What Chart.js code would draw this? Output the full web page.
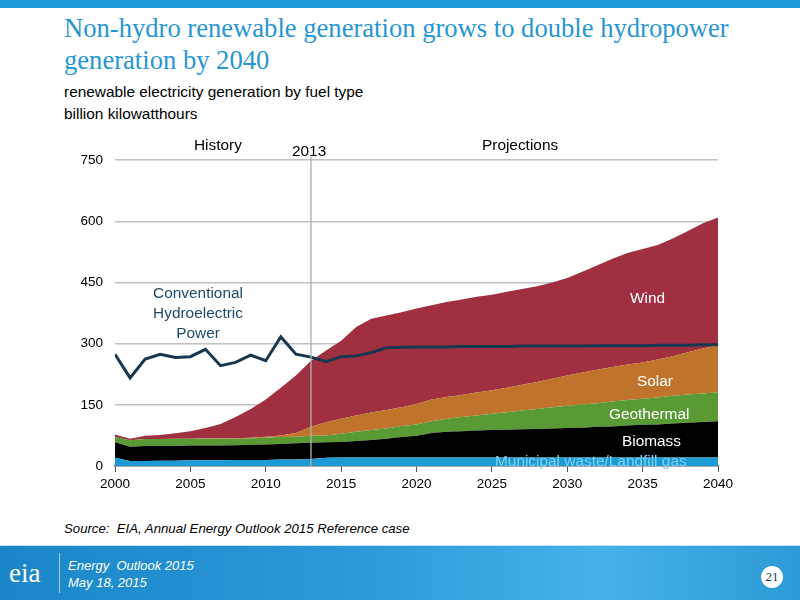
<!DOCTYPE html>
<html>
<head>
<meta charset="utf-8">
<script src="https://cdn.jsdelivr.net/npm/chart.js@4"></script>
<style>
  body { margin: 0; width: 800px; height: 600px; position: relative; overflow: hidden; background: #fff; font-family: "Liberation Sans", Arial, sans-serif; }
  .abs { position: absolute; white-space: nowrap; }
  #topbar { position: absolute; left: 0; top: 0; width: 800px; height: 8px; background: #1b9ad6; }
  #title { left: 64px; top: 12px; font-family: "Liberation Serif", "Times New Roman", serif; font-size: 26.6px; line-height: 32px; color: #2596d2; }
  .sub { left: 64px; font-size: 15.4px; color: #000; }
  #chart-box { position: absolute; left: 60px; top: 140px; width: 683px; height: 366px; }
  .note { font-size: 15.4px; color: #000; }
  .lbl { font-size: 15.4px; color: #fff; }
  #hydro { left: 148px; top: 283px; width: 100px; text-align: center; font-size: 15.4px; line-height: 20px; color: #1d4a6b; }
  #source { left: 64px; top: 521px; font-size: 13.2px; font-style: italic; color: #000; }
  #footer { position: absolute; left: 0; top: 545px; width: 800px; height: 55px;
    background: linear-gradient(90deg, #1a86c8 0%, #2a9ad8 45%, #45b2ea 75%, #2b9ad6 100%);
    border-top: 1px solid #bfe3f5; }
  #logo { left: 9px; top: 558px; font-family: "Liberation Serif", serif; font-size: 27px; color: #fff; }
  #sep { position: absolute; left: 59px; top: 553px; width: 1px; height: 40px; background: rgba(255,255,255,0.6); }
  .foot { left: 68px; font-size: 13px; font-style: italic; color: #fff; }
  #page { position: absolute; left: 761px; top: 566px; width: 22px; height: 22px; border-radius: 11px; background: #fff;
    font-family: "Liberation Serif", serif; font-size: 13px; line-height: 22px; text-align: center; color: #1a3a55; }
</style>
</head>
<body>
<div id="topbar"></div>
<div id="title" class="abs">Non-hydro renewable generation grows to double hydropower<br>generation by 2040</div>
<div class="abs sub" style="top:83px">renewable electricity generation by fuel type</div>
<div class="abs sub" style="top:105px">billion kilowatthours</div>

<div id="chart-box"><canvas id="myChart"></canvas></div>

<div class="abs note" style="left:194px; top:136px">History</div>
<div class="abs note" style="left:292px; top:142px">2013</div>
<div class="abs note" style="left:482px; top:136px">Projections</div>
<div id="hydro" class="abs">Conventional<br>Hydroelectric<br>Power</div>
<div class="abs lbl" style="left:630px; top:289px">Wind</div>
<div class="abs lbl" style="left:637px; top:372px">Solar</div>
<div class="abs lbl" style="left:609px; top:405px">Geothermal</div>
<div class="abs lbl" style="left:622px; top:432px">Biomass</div>
<div class="abs lbl" style="left:495px; top:452px; color:#7fd0f5">Municipal waste/Landfill gas</div>

<div id="source" class="abs">Source:&nbsp; EIA, Annual Energy Outlook 2015 Reference case</div>

<div id="footer"></div>
<div id="logo" class="abs">eia</div>
<div id="sep"></div>
<div class="abs foot" style="top:558px">Energy&nbsp; Outlook 2015</div>
<div class="abs foot" style="top:575px">May 18, 2015</div>
<div id="page">21</div>

<script>
const years = [];
for (let y = 2000; y <= 2040; y++) years.push(y);

// billion kWh
const msw = [20, 12, 12, 13, 13, 14, 14, 14, 15, 15, 15, 16, 16, 17, 20, 21, 21, 21, 21, 21,
  21, 21, 21, 21, 21, 21, 21, 21, 21, 21, 21, 21, 21, 21, 21, 21, 21, 21, 21, 21, 21];
const biomass = [38, 35, 37, 36, 36, 36, 36, 36, 36, 37, 38, 38, 40, 40, 38, 38, 40, 43, 46, 50,
  53, 60, 63, 64, 66, 67, 68, 69, 70, 71, 72, 73, 75, 76, 78, 80, 81, 83, 85, 87, 89];
const geothermal = [13, 16, 17, 17, 18, 17, 17, 17, 16, 16, 16, 17, 16, 17, 17, 20, 23, 24, 25, 27,
  28, 29, 32, 35, 37, 40, 43, 46, 49, 52, 55, 57, 58, 61, 63, 64, 66, 68, 69, 70, 71];
const solar = [0, 0, 0, 0, 0, 0, 1, 1, 1, 1, 3, 4, 9, 22, 32, 37, 40, 43, 45, 46,
  50, 53, 53, 54, 56, 58, 60, 63, 66, 70, 74, 78, 82, 85, 87, 89, 93, 97, 104, 110, 115];
const wind = [6, 4, 8, 10, 13, 18, 25, 35, 52, 71, 91, 117, 141, 162, 176, 191, 217, 230, 232, 233,
  234, 231, 233, 234, 235, 234, 235, 235, 235, 236, 239, 247, 256, 265, 273, 278, 281, 289, 297, 307, 313];
const hydro = [274, 216, 262, 274, 266, 268, 286, 246, 254, 272, 258, 317, 274, 267, 256, 268, 270, 278, 290, 291,
  292, 292, 292, 293, 293, 293, 293, 294, 294, 294, 294, 294, 295, 295, 295, 295, 296, 296, 296, 297, 297];

const yTicks = [0, 150, 300, 450, 600, 750];
const xTicks = [2000, 2005, 2010, 2015, 2020, 2025, 2030, 2035, 2040];
const splitYear = 2013;

function pts(vals) {
  return years.map((yr, i) => ({ x: yr, y: vals[i] }));
}

function area(vals, color, fill) {
  return {
    data: pts(vals),
    backgroundColor: color,
    borderColor: color,
    borderWidth: 0,
    pointRadius: 0,
    fill: fill,
    stack: "renew",
    order: 1,
    tension: 0,
  };
}

// vertical line at the last history year
const splitLine = {
  id: "splitLine",
  afterDatasetsDraw(chart) {
    const { ctx, chartArea, scales } = chart;
    const x = scales.x.getPixelForValue(splitYear);
    ctx.save();
    ctx.strokeStyle = "rgba(175,175,175,0.9)";
    ctx.lineWidth = 1.5;
    ctx.beginPath();
    ctx.moveTo(x, chartArea.top - 3);
    ctx.lineTo(x, chartArea.bottom + 1);
    ctx.stroke();
    ctx.restore();
  },
};

const ctx = document.getElementById("myChart");

const newChart = new Chart(ctx, {
  type: "line",
  data: {
    datasets: [
      area(msw, "#1c9ad6", "origin"),
      area(biomass, "#000000", "-1"),
      area(geothermal, "#5a9a35", "-1"),
      area(solar, "#c0732b", "-1"),
      area(wind, "#a03040", "-1"),
      {
        data: pts(hydro),
        borderColor: "#17364f",
        borderWidth: 3,
        pointRadius: 0,
        fill: false,
        stack: "hydro",
        order: 0,
        tension: 0,
      },
    ],
  },
  options: {
    responsive: true,
    maintainAspectRatio: false,
    animation: false,
    layout: { padding: { top: 8, right: 25, left: 0, bottom: 0 } },
    plugins: {
      legend: { display: false },
      tooltip: { enabled: false },
    },
    scales: {
      x: {
        type: "linear",
        min: 2000,
        max: 2040,
        afterBuildTicks: (s) => { s.ticks = xTicks.map((v) => ({ value: v })); },
        afterFit: (s) => { s.height = 40; },
        ticks: {
          color: "#000",
          font: { family: "Liberation Sans", size: 13.5 },
          padding: 4,
          maxRotation: 0,
          callback: (v) => String(v),
        },
        grid: { drawOnChartArea: false, drawTicks: true, tickLength: 6, color: "#555" },
        border: { display: true, color: "#555", width: 1.5 },
      },
      y: {
        stacked: true,
        min: 0,
        max: 750,
        afterBuildTicks: (s) => { s.ticks = yTicks.map((v) => ({ value: v })); },
        afterFit: (s) => { s.width = 55; },
        ticks: {
          color: "#000",
          font: { family: "Liberation Sans", size: 13.5 },
          padding: 12,
        },
        grid: { color: (c) => (c.tick.value === 0 ? "rgba(0,0,0,0)" : "#c0c0c0"), lineWidth: 1.5, drawTicks: false },
        border: { display: false },
      },
    },
  },
  plugins: [splitLine],
});
</script>
</body>
</html>
